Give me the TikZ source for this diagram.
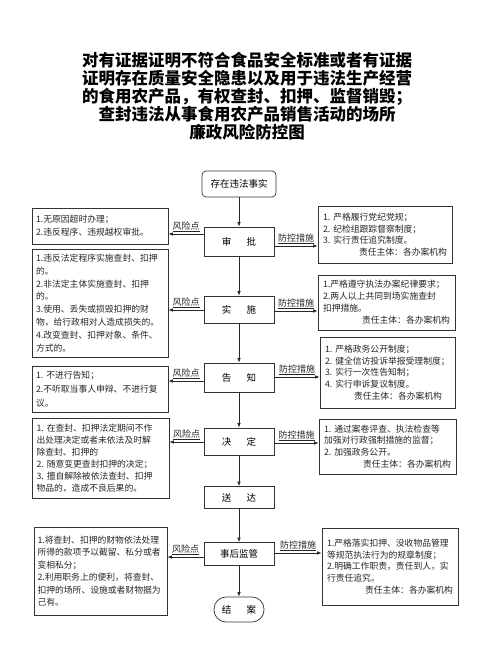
\documentclass[tikz,border=0pt]{standalone}
\usepackage{fontspec}
\setmainfont{Noto Sans CJK SC}
\usetikzlibrary{arrows.meta}
\begin{document}
\begin{tikzpicture}[x=1pt,y=-1pt,
  mainbox/.style={draw=black!80, line width=0.7pt, minimum width=70pt, inner sep=0pt, font=\fontsize{9.5}{11}\selectfont},
  txtbox/.style={draw=black!80, line width=0.7pt, align=left, inner sep=0pt, font=\fontsize{8.8}{12}\selectfont, text=black!85},
  arr/.style={-{Latex[length=4.5pt,width=3.5pt]}, line width=0.7pt, draw=black!85},
  lbl/.style={font=\fontsize{9}{10}\selectfont, inner sep=1.5pt, anchor=south, text=black!85}
]
\useasboundingbox (0,0) rectangle (494,645);
\newcommand{\mysp}{\hspace{1.6em}}

% title
\node[align=center, font=\fontsize{16.5}{18}\selectfont\bfseries] (title) at (247,96)
  {对有证据证明不符合食品安全标准或者有证据\\证明存在质量安全隐患以及用于违法生产经营\\的食用农产品，有权查封、扣押、监督销毁；\\查封违法从事食用农产品销售活动的场所\\廉政风险防控图};

% main column
\node[mainbox, rounded corners=4pt, minimum width=74pt, minimum height=26pt] (start) at (239,184) {存在违法事实};
\node[mainbox, minimum height=29pt] (shen) at (239,241.5) {审\mysp 批};
\node[mainbox, minimum height=27pt] (shi) at (239,309.5) {实\mysp 施};
\node[mainbox, minimum height=29pt] (gao) at (239,377.5) {告\mysp 知};
\node[mainbox, minimum height=27pt] (jue) at (239,441.5) {决\mysp 定};
\node[mainbox, minimum height=22pt] (song) at (239,497.5) {送\mysp 达};
\node[mainbox, minimum height=23pt] (shih) at (239,554) {事后监管};
\node[mainbox, rounded corners=12pt, minimum width=50pt, minimum height=25pt] (jie) at (239,609.5) {结\mysp 案};

\draw[arr] (start) -- (shen);
\draw[arr] (shen) -- (shi);
\draw[arr] (shi) -- (gao);
\draw[arr] (gao) -- (jue);
\draw[arr] (jue) -- (song);
\draw[arr] (song) -- (shih);
\draw[arr] (shih) -- (jie);

% left boxes (risk points)
\node[txtbox, minimum width=136pt, minimum height=36pt, text width=128pt, font=\fontsize{8.8}{13}\selectfont] (l1) at (100,226)
  {1.无原因超时办理；\\2.违反程序、违规越权审批。};
\node[txtbox, minimum width=136pt, minimum height=108pt, text width=128pt, font=\fontsize{8.8}{12.8}\selectfont] (l2) at (100,303)
  {1.违反法定程序实施查封、扣押\\的。\\2.非法定主体实施查封、扣押\\的。\\3.使用、丢失或损毁扣押的财\\物，给行政相对人造成损失的。\\4.改变查封、扣押对象、条件、\\方式的。};
\node[txtbox, minimum width=136pt, minimum height=46pt, text width=128pt, font=\fontsize{8.8}{14}\selectfont] (l3) at (100,389)
  {1.\ 不进行告知；\\2.不听取当事人申辩、不进行复\\议。};
\node[txtbox, minimum width=137pt, minimum height=80pt, text width=128pt, font=\fontsize{8.8}{12}\selectfont] (l4) at (100.5,458)
  {1.\ 在查封、扣押法定期间不作\\出处理决定或者未依法及时解\\除查封、扣押的\\2.\ 随意变更查封扣押的决定；\\3.\ 擅自解除被依法查封、扣押\\物品的，造成不良后果的。};
\node[txtbox, minimum width=133pt, minimum height=88pt, text width=126pt, font=\fontsize{8.8}{12.5}\selectfont] (l5) at (100.5,571)
  {1.将查封、扣押的财物依法处理\\所得的款项予以截留、私分或者\\变相私分；\\2.利用职务上的便利，将查封、\\扣押的场所、设施或者财物据为\\己有。};

% right boxes (control measures)
\node[txtbox, minimum width=134pt, minimum height=57pt, text width=124pt, font=\fontsize{8.8}{11.5}\selectfont] (r1) at (385,234.5)
  {1.\ 严格履行党纪党规；\\2.\ 纪检组跟踪督察制度；\\3.\ 实行责任追究制度。\\\hfill 责任主体：各办案机构};
\node[txtbox, minimum width=137pt, minimum height=55pt, text width=127pt, font=\fontsize{8.8}{12}\selectfont] (r2) at (386.5,302.5)
  {1.严格遵守执法办案纪律要求；\\2.两人以上共同到场实施查封\\扣押措施。\\\hfill 责任主体：各办案机构};
\node[txtbox, minimum width=135pt, minimum height=71pt, text width=125pt, font=\fontsize{8.8}{11.8}\selectfont] (r3) at (387.5,372.5)
  {1.\ 严格政务公开制度；\\2.\ 健全信访投诉举报受理制度；\\3.\ 实行一次性告知制；\\4.\ 实行申诉复议制度。\\\hfill 责任主体：各办案机构\hspace*{8pt}};
\node[txtbox, minimum width=137pt, minimum height=55pt, text width=127pt, font=\fontsize{8.8}{11.8}\selectfont] (r4) at (387.5,446.5)
  {1.\ 通过案卷评查、执法检查等\\加强对行政强制措施的监督；\\2.\ 加强政务公开。\\\hfill 责任主体：各办案机构};
\node[txtbox, minimum width=136pt, minimum height=77pt, text width=126pt, font=\fontsize{8.8}{11.8}\selectfont] (r5) at (390,566.5)
  {1.严格落实扣押、没收物品管理\\等规范执法行为的规章制度；\\2.明确工作职责，责任到人，实\\行责任追究。\\\hfill 责任主体：各办案机构};

% risk arrows
\draw[arr] (shen.west |- 0,234) -- (l1.east |- 0,234) node[midway, lbl] {\underline{风险点}};
\draw[arr] (shi.west |- 0,310) -- (l2.east |- 0,310) node[midway, lbl] {\underline{风险点}};
\draw[arr] (gao.west |- 0,381) -- (l3.east |- 0,381) node[midway, lbl] {\underline{风险点}};
\draw[arr] (jue.west |- 0,442) -- (l4.east |- 0,442) node[midway, lbl] {\underline{风险点}};
\draw[arr] (shih.west |- 0,557) -- (l5.east |- 0,557) node[midway, lbl] {\underline{风险点}};

% control arrows
\draw[arr] (shen.east |- 0,246) -- (r1.west |- 0,246) node[midway, lbl] {\underline{防控措施}};
\draw[arr] (shi.east |- 0,311) -- (r2.west |- 0,311) node[midway, lbl] {\underline{防控措施}};
\draw[arr] (gao.east |- 0,377) -- (r3.west |- 0,377) node[midway, lbl] {\underline{防控措施}};
\draw[arr] (jue.east |- 0,443) -- (r4.west |- 0,443) node[midway, lbl] {\underline{防控措施}};
\draw[arr] (shih.east |- 0,553) -- (r5.west |- 0,553) node[midway, lbl] {\underline{防控措施}};
\end{tikzpicture}
\end{document}
